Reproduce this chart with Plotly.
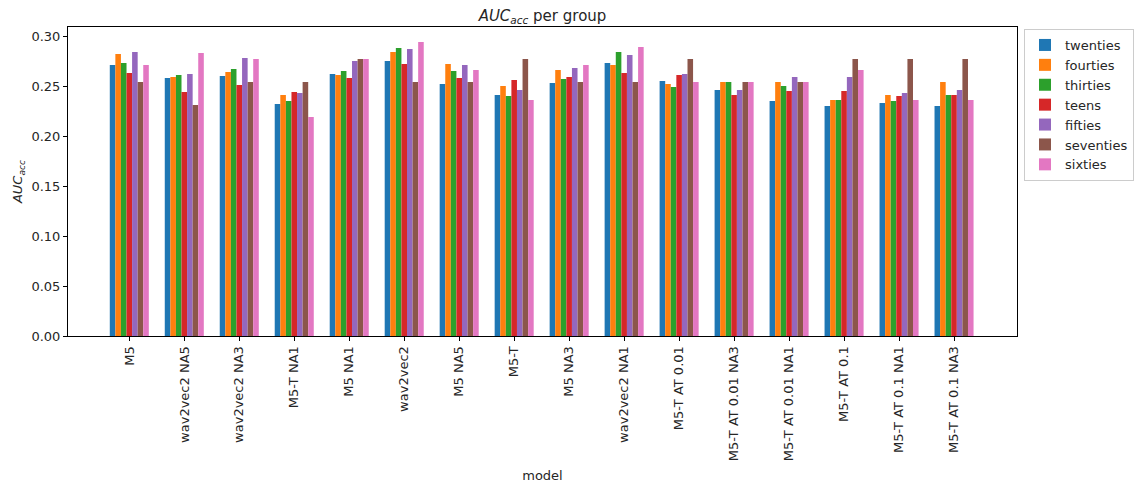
import plotly.graph_objects as go

# Model names along the x axis
models = [
    "M5", "wav2vec2 NA5", "wav2vec2 NA3", "M5-T NA1", "M5 NA1", "wav2vec2",
    "M5 NA5", "M5-T", "M5 NA3", "wav2vec2 NA1", "M5-T AT 0.01",
    "M5-T AT 0.01 NA3", "M5-T AT 0.01 NA1", "M5-T AT 0.1", "M5-T AT 0.1 NA1",
    "M5-T AT 0.1 NA3",
]

# AUC_acc per age group, one list per series (same order as models)
twenties = [0.271, 0.258, 0.260, 0.232, 0.262, 0.275, 0.252, 0.241, 0.253, 0.273,
            0.255, 0.246, 0.235, 0.230, 0.233, 0.230]
fourties = [0.282, 0.259, 0.264, 0.241, 0.261, 0.284, 0.272, 0.250, 0.266, 0.271,
            0.252, 0.254, 0.254, 0.236, 0.241, 0.254]
thirties = [0.273, 0.261, 0.267, 0.235, 0.265, 0.288, 0.265, 0.240, 0.257, 0.284,
            0.249, 0.254, 0.250, 0.236, 0.235, 0.241]
teens = [0.263, 0.244, 0.251, 0.244, 0.258, 0.272, 0.258, 0.256, 0.259, 0.263,
         0.261, 0.241, 0.245, 0.245, 0.240, 0.241]
fifties = [0.284, 0.262, 0.278, 0.243, 0.275, 0.287, 0.271, 0.246, 0.268, 0.281,
           0.262, 0.246, 0.259, 0.259, 0.243, 0.246]
seventies = [0.254, 0.231, 0.254, 0.254, 0.277, 0.254, 0.254, 0.277, 0.254, 0.254,
             0.277, 0.254, 0.254, 0.277, 0.277, 0.277]
sixties = [0.271, 0.283, 0.277, 0.219, 0.277, 0.294, 0.266, 0.236, 0.271, 0.289,
           0.254, 0.254, 0.254, 0.266, 0.236, 0.236]

series = [
    ("twenties", twenties, "#1f77b4"),
    ("fourties", fourties, "#ff7f0e"),
    ("thirties", thirties, "#2ca02c"),
    ("teens", teens, "#d62728"),
    ("fifties", fifties, "#9467bd"),
    ("seventies", seventies, "#8c564b"),
    ("sixties", sixties, "#e377c2"),
]

font = "DejaVu Sans"
W, H = 1138, 487

fig = go.Figure()
for name, vals, color in series:
    fig.add_trace(go.Bar(
        x=models, y=vals, name=name,
        marker=dict(color=color, line=dict(width=0)),
    ))

fig.update_layout(
    width=W, height=H,
    margin=dict(l=68, r=121, t=27, b=151),
    barmode="group", bargap=0.29, bargroupgap=0,
    plot_bgcolor="white", paper_bgcolor="white",
    font=dict(family=font, size=13, color="#262626"),
    title=dict(
        text="<i>AUC</i><sub><i>acc</i></sub> per group",
        xref="paper", x=0.5, xanchor="center",
        y=1 - 16 / H, yanchor="middle",
        font=dict(family=font, size=15, color="#262626"),
    ),
    legend=dict(
        xref="container", yref="container",
        x=1024 / W, y=1 - 29 / H, xanchor="left", yanchor="top",
        bordercolor="#cccccc", borderwidth=1,
        font=dict(family=font, size=13, color="#262626"),
        tracegroupgap=0,
    ),
    showlegend=True,
)

fig.update_xaxes(
    type="category", tickangle=-90,
    range=[-1.115, len(models) - 1 + 1.145],
    showline=True, linecolor="black", linewidth=1, mirror=True,
    ticks="outside", ticklen=4, tickcolor="black",
    showgrid=False, automargin=False,
    title=dict(text="model", font=dict(family=font, size=13), standoff=10),
)
fig.update_yaxes(
    range=[0, 0.309], dtick=0.05, tickformat=".2f",
    showline=True, linecolor="black", linewidth=1, mirror=True,
    ticks="outside", ticklen=4, tickcolor="black",
    showgrid=False, zeroline=False, automargin=False,
    title=dict(text="<i>AUC</i><sub><i>acc</i></sub>", font=dict(family=font, size=13), standoff=5),
)

fig.write_html("out.html")
